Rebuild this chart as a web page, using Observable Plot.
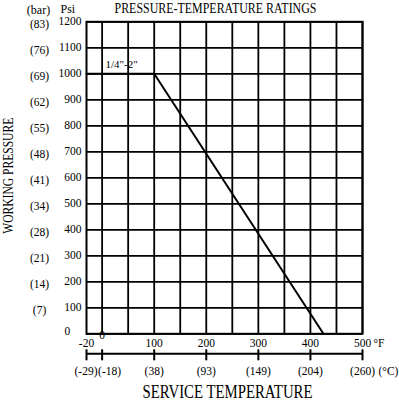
<!DOCTYPE html>
<html><head><meta charset="utf-8">
<script src="https://cdn.jsdelivr.net/npm/d3@7"></script>
<script src="https://cdn.jsdelivr.net/npm/@observablehq/plot@0.6"></script>
<style>body{margin:0;background:#fff}svg{display:block}</style>
</head><body><div id="chart"></div>
<script>
const psiTicks = [0,100,200,300,400,500,600,700,800,900,1000,1100,1200];
const barPsi = [100,200,300,400,500,600,700,800,900,1000,1100,1200];
const barLabels = ["(7)","(14)","(21)","(28)","(34)","(41)","(48)","(55)","(62)","(69)","(76)","(83)"];
const fTicks = [-20,0,100,200,300,400,500];
const fLabels = ["-20","0","100","200","300","400","500"];
const cLabels = ["(-29)","(-18)","(38)","(93)","(149)","(204)","(260)"];
const gridF = [0,50,100,150,200,250,300,350,400,450,500];
const ratingTemp = [-20,100,425];
const ratingPsi = [1000,1000,0];
const sizeLabel = "1/4\"-2\"";

const font = "'Liberation Serif', serif";
const idx = d3.range(ratingTemp.length);
const fIdx = d3.range(fTicks.length);
const tickSymbol = {draw(ctx) { ctx.moveTo(0, -4.5); ctx.lineTo(0, 6.5); }};

const chart = Plot.plot({
  width: 399, height: 401,
  marginLeft: 86, marginRight: 37, marginTop: 21.3, marginBottom: 67.7,
  style: {fontFamily: font, fontSize: "11.5px", color: "#000", background: "#fff"},
  // the chart's axis is broken below 0°F: -20°F sits where -30°F would be
  x: {domain: [-30, 500], transform: d => d < 0 ? d * 1.5 : d, axis: null},
  y: {domain: [0, 1200], axis: null},
  marks: [
    Plot.ruleY(psiTicks, {stroke: "#000", strokeWidth: 1.8}),
    Plot.ruleX(gridF, {stroke: "#000", strokeWidth: 1.8}),
    Plot.frame({stroke: "#000", strokeWidth: 2}),
    Plot.line(idx, {x: i => ratingTemp[i], y: i => ratingPsi[i], stroke: "#000", strokeWidth: 2}),
    Plot.text([sizeLabel], {x: ratingTemp[0], y: ratingPsi[0], text: d => d, textAnchor: "start", dx: 19, dy: -9, fontSize: 11}),
    // psi labels
    Plot.text(psiTicks.filter(d => d > 0), {frameAnchor: "left", y: d => d, text: d => String(d), textAnchor: "end", dx: -5}),
    Plot.text([0], {frameAnchor: "left", y: d => d, text: d => String(d), textAnchor: "start", dx: -22, dy: -2}),
    // bar labels
    Plot.text(barPsi, {frameAnchor: "left", y: d => d, text: (d, i) => barLabels[i], textAnchor: "middle", dx: -47, dy: 3}),
    Plot.text(["(bar)"], {frameAnchor: "top-left", lineAnchor: "middle", textAnchor: "middle", text: d => d, dx: -48, dy: -12, fontSize: 12}),
    Plot.text(["Psi"], {frameAnchor: "top-left", lineAnchor: "middle", textAnchor: "start", text: d => d, dx: -26, dy: -13, fontSize: 12}),
    // title
    Plot.text(["PRESSURE-TEMPERATURE RATINGS"], {frameAnchor: "top", lineAnchor: "middle", textAnchor: "middle", text: d => d, dx: -9, dy: -14, fontSize: 15}),
    // F labels
    Plot.text(fIdx.filter(i => fTicks[i] !== 0), {x: i => fTicks[i], y: 0, text: i => fLabels[i], dy: 10}),
    Plot.text(fIdx.filter(i => fTicks[i] === 0), {x: i => fTicks[i], y: 0, text: i => fLabels[i], dy: 2}),
    Plot.text(["°F"], {x: 500, y: 0, text: d => d, textAnchor: "start", dx: 11, dy: 10}),
    // C axis
    Plot.ruleY([0], {x1: -20, x2: 500, dy: 20, stroke: "#000", strokeWidth: 2}),
    Plot.dot(fTicks, {x: d => d, y: 0, dy: 20, symbol: tickSymbol, r: 5, fill: "none", stroke: "#000", strokeWidth: 2}),
    Plot.text(fIdx.slice(2), {x: i => fTicks[i], y: 0, text: i => cLabels[i], dy: 38}),
    Plot.text([0], {x: fTicks[0], y: 0, text: () => cLabels[0], textAnchor: "end", dx: 11, dy: 38}),
    Plot.text([1], {x: fTicks[1], y: 0, text: () => cLabels[1], textAnchor: "start", dx: -4, dy: 38}),
    Plot.text(["(°C)"], {x: 500, y: 0, text: d => d, textAnchor: "start", dx: 16, dy: 38}),
    Plot.text(["SERVICE TEMPERATURE"], {frameAnchor: "bottom", lineAnchor: "middle", textAnchor: "middle", text: d => d, dx: 3, dy: 58, fontSize: 18}),
    Plot.text(["WORKING PRESSURE"], {frameAnchor: "left", textAnchor: "middle", text: d => d, rotate: -90, dx: -78, dy: -2, fontSize: 14})
  ]
});
document.getElementById("chart").appendChild(chart);
const fit = (label, len) => {
  chart.querySelectorAll("text").forEach(t => {
    if (t.textContent === label) {
      t.setAttribute("textLength", len);
      t.setAttribute("lengthAdjust", "spacingAndGlyphs");
    }
  });
};
fit("PRESSURE-TEMPERATURE RATINGS", 202);
fit("SERVICE TEMPERATURE", 170);
fit("WORKING PRESSURE", 116);
</script>
</body></html>
